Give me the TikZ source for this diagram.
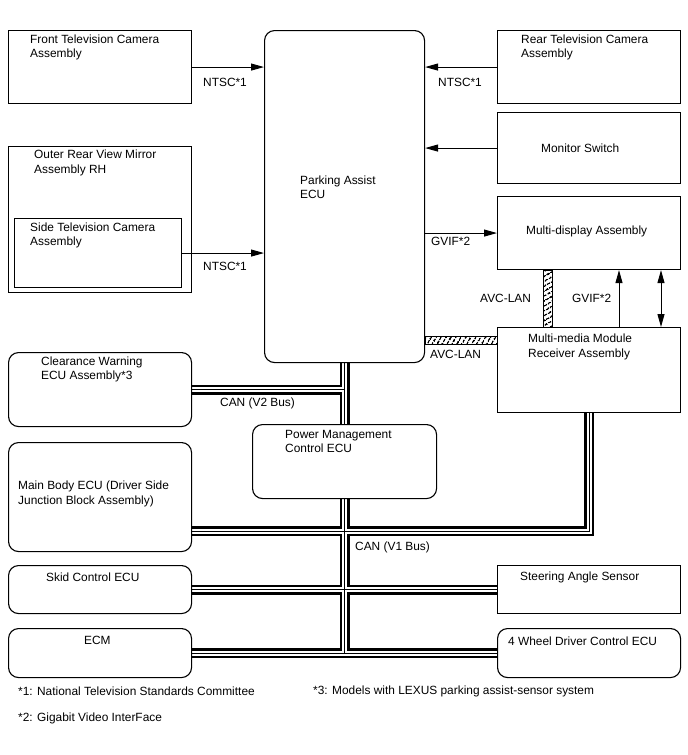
\documentclass[tikz,border=0pt]{standalone}
\usepackage{fontspec}
\setmainfont{Liberation Sans}
\usetikzlibrary{arrows.meta,patterns.meta,backgrounds}

\begin{document}
\begin{tikzpicture}[x=1pt,y=-1pt,
	box/.style={draw,line width=1.1pt,anchor=north west,inner sep=0pt},
	rbox/.style={box,rounded corners=10pt},
	txt/.style={anchor=west,align=left,inner sep=0pt,font=\fontsize{11.9}{14.5}\selectfont},
	sig/.style={line width=1pt,-{Triangle[length=13pt,width=7pt]}},
	both/.style={line width=1pt,{Triangle[length=13pt,width=7pt]}-{Triangle[length=13pt,width=7pt]}},
	avc/.style={draw,line width=1pt,pattern={Lines[angle=#1,distance=4pt,line width=1.6pt]}}]

				\useasboundingbox (0,0) rectangle (688,755);

				\node[box,minimum width=183pt,minimum height=73pt] (front) at (8,30) {};
				\node[txt] (front-t) at (30,47.5) {Front Television Camera\\Assembly};

				\node[box,minimum width=183pt,minimum height=146pt] (outer) at (8,146) {};
				\node[txt] (outer-t) at (34,163) {Outer Rear View Mirror\\Assembly RH};

				\node[box,minimum width=167pt,minimum height=69pt] (side) at (14,218) {};
				\node[txt] (side-t) at (30,235.5) {Side Television Camera\\Assembly};

				\node[rbox,minimum width=160pt,minimum height=332pt] (ecu) at (264,30) {};
				\node[txt] (ecu-t) at (300,187) {Parking Assist\\ECU};

				\node[box,minimum width=183pt,minimum height=73pt] (rear) at (497,30) {};
				\node[txt] (rear-t) at (521,47.5) {Rear Television Camera\\Assembly};

				\node[box,minimum width=183pt,minimum height=71pt] (monsw) at (497,112) {};
				\node[txt] (monsw-t) at (541,148) {Monitor Switch};

				\node[box,minimum width=183pt,minimum height=73pt] (mdisp) at (497,196) {};
				\node[txt] (mdisp-t) at (526,231) {Multi-display Assembly};

				\node[box,minimum width=183pt,minimum height=85pt] (mmr) at (497,327) {};
				\node[txt] (mmr-t) at (528,347) {Multi-media Module\\Receiver Assembly};

				\node[rbox,minimum width=183pt,minimum height=74pt] (cw) at (8,352) {};
				\node[txt] (cw-t) at (41,369.5) {Clearance Warning\\ECU Assembly*3};

				\node[rbox,minimum width=184pt,minimum height=74pt] (pm) at (252,424) {};
				\node[txt] (pm-t) at (285,441.5) {Power Management\\Control ECU};

				\node[rbox,minimum width=183pt,minimum height=109pt] (mb) at (8,442) {};
				\node[txt] (mb-t) at (18,494) {Main Body ECU (Driver Side\\Junction Block Assembly)};

				\node[rbox,minimum width=183pt,minimum height=48pt] (skid) at (8,565) {};
				\node[txt] (skid-t) at (46,577) {Skid Control ECU};

				\node[box,minimum width=183pt,minimum height=48pt] (steer) at (497,565) {};
				\node[txt] (steer-t) at (520,577) {Steering Angle Sensor};

				\node[rbox,minimum width=183pt,minimum height=49pt] (ecm) at (8,628) {};
				\node[txt] (ecm-t) at (84,640) {ECM};

				\node[rbox,minimum width=183pt,minimum height=49pt] (fwd) at (497,628) {};
				\node[txt] (fwd-t) at (508,641) {4 Wheel Driver Control ECU};

				\draw[sig] (front.east) -- (front.east -| ecu.west);
				\node[txt] (ntsc-a) at (203,82) {NTSC*1};
				\draw[sig] (side.east) -- (side.east -| ecu.west);
				\node[txt] (ntsc-b) at (203,266) {NTSC*1};
				\draw[sig] (rear.west) -- (rear.west -| ecu.east);
				\node[txt] (ntsc-c) at (438,82) {NTSC*1};
				\draw[sig] (monsw.west) -- (monsw.west -| ecu.east);
				\draw[sig] (mdisp.west -| ecu.east) -- (mdisp.west);
				\node[txt] (gvif-a) at (431,241) {GVIF*2};

				\draw[sig] (mmr.north -| 619,0) -- (mdisp.south -| 619,0);
				\node[txt] (gvif-b) at (572,298) {GVIF*2};
				\draw[both] (mmr.north -| 661,0) -- (mdisp.south -| 661,0);

				\draw[avc=60] (ecu.east |- 0,336) rectangle (mmr.west |- 0,344);
				\node[txt] (avc-a) at (430,354) {AVC-LAN};
				\draw[avc=30] (mdisp.south -| 543,0) rectangle (mmr.north -| 552,0);
				\node[txt] (avc-b) at (480,298) {AVC-LAN};

				\coordinate (mbbus) at (mb.east |- 0,531);
				\begin{scope}[on background layer]
					\foreach \lw/\lc in {10pt/black,5pt/white,1pt/black}
						\draw[line width=\lw,\lc] (ecu.south) -- (pm.north)
							(pm.south) -- (pm.south |- ecm.east)
							(cw.east) -- (cw.east -| pm.north)
							(mbbus) -| (mmr.south)
							(skid.east) -- (steer.west)
							(ecm.east) -- (fwd.west);
				\end{scope}
				\node[txt] (v2) at (220,403) {CAN (V2 Bus)};
				\node[txt] (v1) at (355,547) {CAN (V1 Bus)};

				\node[txt] (note1) at (18,691) {*1: National Television Standards Committee};
				\node[txt] (note3) at (313,691) {*3: Models with LEXUS parking assist-sensor system};
				\node[txt] (note2) at (18,718) {*2: Gigabit Video InterFace};
			\end{tikzpicture}
\end{document}
